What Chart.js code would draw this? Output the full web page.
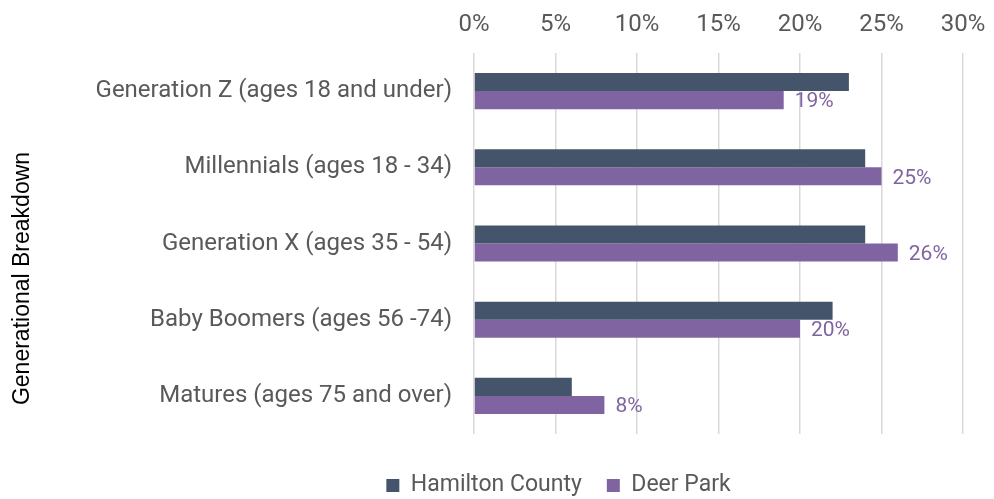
<!DOCTYPE html>
<html>
<head>
<meta charset="utf-8">
<script src="https://cdn.jsdelivr.net/npm/chart.js@4/dist/chart.umd.min.js"></script>
<style>
  html, body { margin: 0; padding: 0; background: #ffffff; }
  #wrap { width: 994px; height: 499px; }
</style>
</head>
<body>
<div id="wrap"><canvas id="chart" width="994" height="499"></canvas></div>
<script>
const categories = [
  'Generation Z (ages 18 and under)',
  'Millennials (ages 18 - 34)',
  'Generation X (ages 35 - 54)',
  'Baby Boomers (ages 56 -74)',
  'Matures (ages 75 and over)'
];
const hamiltonCounty = [23, 24, 24, 22, 6];
const deerPark = [19, 25, 26, 20, 8];
const xTicks = [0, 5, 10, 15, 20, 25, 30];
const axisTitle = 'Generational Breakdown';

const FONT = 'Roboto, "Liberation Sans", sans-serif';
const GREY = '#595959';
const SLATE = '#44546A';
const PURPLE = '#8064A2';

// Value labels at the end of the Deer Park bars
const barValueLabels = {
  id: 'barValueLabels',
  afterDatasetsDraw(chart) {
    const ctx = chart.ctx;
    const meta = chart.getDatasetMeta(1);
    ctx.save();
    ctx.font = '21px ' + FONT;
    ctx.fillStyle = PURPLE;
    ctx.textAlign = 'left';
    ctx.textBaseline = 'middle';
    meta.data.forEach((bar, i) => {
      ctx.fillText(deerPark[i] + '%', bar.x + 11, bar.y + 2);
    });
    ctx.restore();
  }
};

// Rotated category-axis title, sitting a little below the axis middle
const sideTitle = {
  id: 'sideTitle',
  afterDraw(chart) {
    const ctx = chart.ctx;
    const area = chart.chartArea;
    ctx.save();
    ctx.translate(23, (area.top + area.bottom) / 2 + 35);
    ctx.rotate(-Math.PI / 2);
    ctx.font = '23px "Liberation Sans", Arial, sans-serif';
    ctx.fillStyle = '#000000';
    ctx.textAlign = 'center';
    ctx.textBaseline = 'middle';
    ctx.fillText(axisTitle, 0, 0);
    ctx.restore();
  }
};

// Place the legend under the plot area, lower down near the canvas edge
const legendShift = {
  id: 'legendShift',
  afterLayout(chart) {
    const lg = chart.legend;
    if (!lg) return;
    const target = (chart.chartArea.left + chart.chartArea.right) / 2 - 160;
    const cur = (lg.left + lg.right) / 2;
    lg.left += target - cur;
    lg.right += target - cur;
    const dy = 449 - lg.top;
    lg.top += dy;
    lg.bottom += dy;
  }
};

new Chart(document.getElementById('chart'), {
  type: 'bar',
  data: {
    labels: categories,
    datasets: [
      { label: 'Hamilton County', data: hamiltonCounty, backgroundColor: SLATE,
        barPercentage: 1, categoryPercentage: 0.474 },
      { label: 'Deer Park', data: deerPark, backgroundColor: PURPLE,
        barPercentage: 1, categoryPercentage: 0.474 }
    ]
  },
  options: {
    indexAxis: 'y',
    responsive: false,
    animation: false,
    layout: { padding: { top: 6, right: 31, bottom: 7, left: 8 } },
    scales: {
      x: {
        position: 'top',
        min: 0, max: 30,
        afterBuildTicks(scale) { scale.ticks = xTicks.map(v => ({ value: v })); },
        afterFit(scale) {
          scale.height = 47;
          scale.paddingLeft = 0;
          scale.paddingRight = 0;
        },
        ticks: {
          color: GREY,
          font: { family: FONT, size: 24 },
          padding: 14,
          callback: v => v + '%'
        },
        grid: { color: '#d9d9d9', lineWidth: 1.5, drawTicks: false },
        border: { display: false }
      },
      y: {
        afterFit(scale) { scale.width = 466; },
        ticks: {
          color: GREY,
          font: { family: FONT, size: 24 },
          padding: 22
        },
        grid: { display: false, drawTicks: false },
        border: { display: false }
      }
    },
    plugins: {
      legend: {
        position: 'bottom',
        labels: {
          color: GREY,
          font: { family: FONT, size: 23 },
          boxWidth: 13,
          boxHeight: 13,
          padding: 25
        }
      },
      tooltip: { enabled: false }
    }
  },
  plugins: [barValueLabels, sideTitle, legendShift]
});
</script>
</body>
</html>
